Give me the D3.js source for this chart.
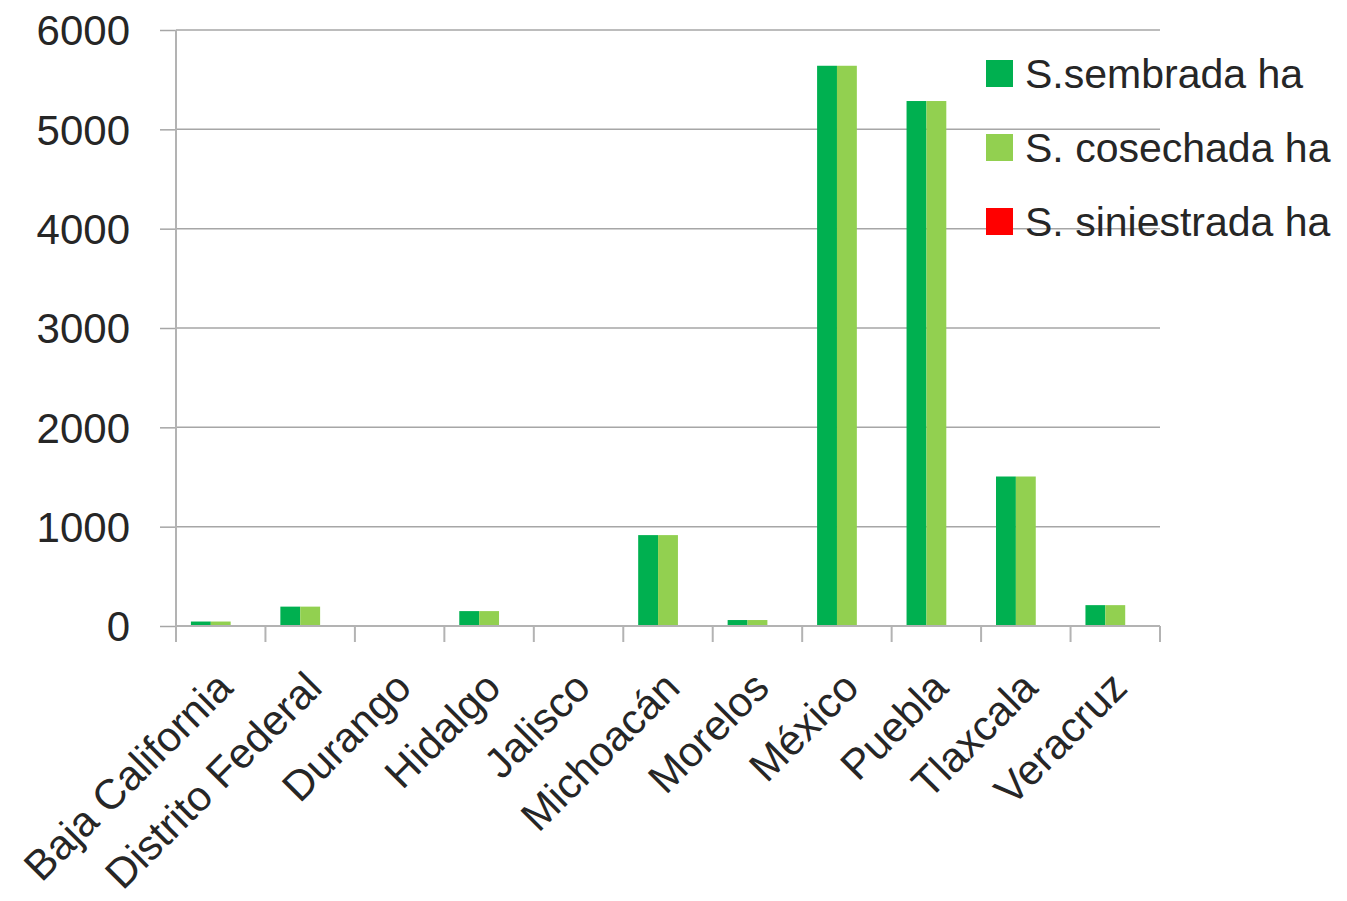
<!DOCTYPE html>
<html><head><meta charset="utf-8">
<script src="https://cdn.jsdelivr.net/npm/d3@7"></script>
<style>body{margin:0;background:#fff}svg{display:block}</style>
</head><body>
<svg id="chart" width="1347" height="901"></svg>
<script>
const categories = ["Baja California","Distrito Federal","Durango","Hidalgo","Jalisco","Michoacán","Morelos","México","Puebla","Tlaxcala","Veracruz"];
const seriesNames = ["S.sembrada ha","S. cosechada ha","S. siniestrada ha"];
const sembrada   = [45, 195, 0, 150, 0, 915, 60, 5640, 5285, 1505, 210];
const cosechada  = [45, 195, 0, 150, 0, 915, 60, 5640, 5285, 1505, 210];
const siniestrada= [0, 0, 0, 0, 0, 0, 0, 0, 0, 0, 0];
const yTicks = [0,1000,2000,3000,4000,5000,6000];
const colors = ["#00b050","#92d050","#ff0000"];

(function(){
const svg = d3.select("#chart");
const pLeft = 176, pRight = 1160, pTop = 30, pBottom = 626;
const font = "'Liberation Sans', Arial, sans-serif";

const x0 = d3.scaleBand().domain(categories).range([pLeft, pRight]).padding(0);
const bw = x0.bandwidth();
const x1 = d3.scaleBand().domain(seriesNames).range([bw/6, bw*5/6]).padding(0);
const y = d3.scaleLinear().domain([0,6000]).range([pBottom, pTop]);

// gridlines
svg.append("g").selectAll("line").data(yTicks.filter(d=>d>0)).join("line")
  .attr("x1", pLeft).attr("x2", pRight)
  .attr("y1", d=>y(d)).attr("y2", d=>y(d))
  .attr("stroke", "#a6a6a6").attr("stroke-width", 1.5);

// y axis
const yAxis = d3.axisLeft(y).tickValues(yTicks).tickSize(16).tickPadding(30).tickFormat(d3.format("d"));
const gy = svg.append("g").attr("transform", `translate(${pLeft},0)`).call(yAxis);
gy.select(".domain").remove();
gy.selectAll(".tick line").attr("stroke", "#a6a6a6").attr("stroke-width", 1.5);
gy.selectAll(".tick text").attr("font-family", font).attr("font-size", 42).attr("fill", "#262626").attr("dy", "0.35em");
svg.append("line").attr("x1", pLeft).attr("x2", pLeft).attr("y1", pTop).attr("y2", pBottom+16)
  .attr("stroke", "#b3b3b3").attr("stroke-width", 2);

// bars
const data = categories.map((c,i)=>({cat:c, vals:[sembrada[i], cosechada[i], siniestrada[i]]}));
const g = svg.append("g");
g.selectAll("g").data(data).join("g")
  .attr("transform", d=>`translate(${x0(d.cat)},0)`)
  .selectAll("rect").data(d=>d.vals.map((v,j)=>({s:seriesNames[j], v, j})))
  .join("rect")
  .attr("x", d=>x1(d.s)).attr("width", x1.bandwidth())
  .attr("y", d=>y(d.v)).attr("height", d=>y(0)-y(d.v))
  .attr("fill", d=>colors[d.j]);

// x axis
svg.append("line").attr("x1", pLeft).attr("x2", pRight).attr("y1", pBottom).attr("y2", pBottom)
  .attr("stroke", "#b3b3b3").attr("stroke-width", 2);
const bounds = categories.map(c=>x0(c)).concat([pRight]);
svg.append("g").selectAll("line").data(bounds).join("line")
  .attr("x1", d=>d).attr("x2", d=>d).attr("y1", pBottom).attr("y2", pBottom+16)
  .attr("stroke", "#b3b3b3").attr("stroke-width", 2);

svg.append("g").selectAll("text").data(categories).join("text")
  .attr("transform", d=>`translate(${x0(d)+bw/2+14},${pBottom+64}) rotate(-45)`)
  .attr("text-anchor", "end")
  .attr("font-family", font).attr("font-size", 42).attr("fill", "#262626")
  .text(d=>d);

// legend
const lg = svg.append("g").attr("transform", "translate(986,60)");
const items = lg.selectAll("g").data(seriesNames).join("g")
  .attr("transform", (d,i)=>`translate(0,${i*74})`);
items.append("rect").attr("width", 27).attr("height", 27).attr("fill", (d,i)=>colors[i]);
items.append("text").attr("x", 39).attr("y", 14).attr("dy", "0.35em")
  .attr("font-family", font).attr("font-size", 41).attr("fill", "#262626")
  .text(d=>d);
})();
</script>
</body></html>
